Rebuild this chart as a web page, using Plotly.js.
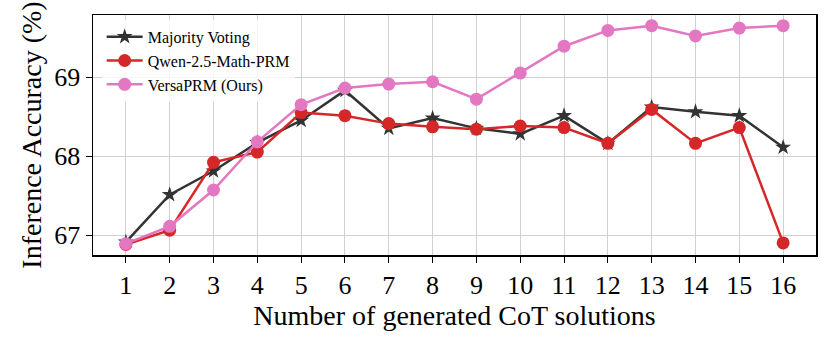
<!DOCTYPE html>
<html>
<head>
<meta charset="utf-8">
<script src="https://cdn.plot.ly/plotly-3.0.1.min.js"></script>
<style>
  html, body { margin: 0; padding: 0; background: #fff; }
  #chart { width: 831px; height: 345px; }
</style>
</head>
<body>
<div id="chart"></div>
<script>
// number of CoT solutions
var nSolutions = [1, 2, 3, 4, 5, 6, 7, 8, 9, 10, 11, 12, 13, 14, 15, 16];
// accuracy (%)
var majorityVoting = [66.91, 67.51, 67.81, 68.17, 68.45, 68.83, 68.35, 68.48, 68.35, 68.28, 68.51, 68.16, 68.62, 68.56, 68.51, 68.11];
var qwenPRM = [66.88, 67.06, 67.92, 68.05, 68.55, 68.51, 68.41, 68.37, 68.34, 68.38, 68.36, 68.16, 68.59, 68.16, 68.36, 66.9];
var versaPRM = [66.89, 67.11, 67.57, 68.18, 68.65, 68.86, 68.91, 68.94, 68.72, 69.05, 69.39, 69.59, 69.65, 69.52, 69.62, 69.65];

var mv_trace = {
    x: nSolutions,
    y: majorityVoting,
    type: 'scatter',
    mode: 'lines+markers',
    name: 'Majority Voting',
    line: {color: '#333333', width: 2.5},
    marker: {symbol: 'star', size: 12, color: '#333333'}
};
var qwen_trace = {
    x: nSolutions,
    y: qwenPRM,
    type: 'scatter',
    mode: 'lines+markers',
    name: 'Qwen-2.5-Math-PRM',
    line: {color: '#d62728', width: 2.5},
    marker: {symbol: 'circle', size: 13, color: '#d62728'}
};
var versa_trace = {
    x: nSolutions,
    y: versaPRM,
    type: 'scatter',
    mode: 'lines+markers',
    name: 'VersaPRM (Ours)',
    line: {color: '#e377c2', width: 2.5},
    marker: {symbol: 'circle', size: 13, color: '#e377c2'}
};

var layout = {
    width: 831,
    height: 345,
    margin: {l: 93, r: 15, t: 15, b: 90},
    paper_bgcolor: '#fff',
    plot_bgcolor: '#fff',
    font: {family: 'Liberation Serif, Times New Roman, serif', color: '#000'},
    showlegend: true,
    legend: {
        x: 0.012, y: 0.98, xanchor: 'left', yanchor: 'top',
        bgcolor: 'rgba(255,255,255,0.8)',
        font: {size: 16},
        itemwidth: 36,
        tracegroupgap: 0
    },
    xaxis: {
        range: [0.25, 16.75],
        tickvals: nSolutions,
        tickfont: {size: 26},
        showgrid: true, gridcolor: '#d0d0d0', gridwidth: 1,
        showline: true, linecolor: '#000', linewidth: 1.5, mirror: true,
        ticks: 'outside', ticklen: 6, tickcolor: '#000',
        zeroline: false,
        title: {text: 'Number of generated CoT solutions', font: {size: 28}, standoff: 6}
    },
    yaxis: {
        range: [66.747, 69.785],
        tickvals: [67, 68, 69],
        tickfont: {size: 26},
        showgrid: true, gridcolor: '#d0d0d0', gridwidth: 1,
        showline: true, linecolor: '#000', linewidth: 1.5, mirror: true,
        ticks: 'outside', ticklen: 6, tickcolor: '#000',
        zeroline: false,
        title: {text: 'Inference Accuracy (%)', font: {size: 28}, standoff: 4}
    }
};

Plotly.newPlot('chart', [mv_trace, qwen_trace, versa_trace], layout, {displayModeBar: false, staticPlot: true});
</script>
</body>
</html>
